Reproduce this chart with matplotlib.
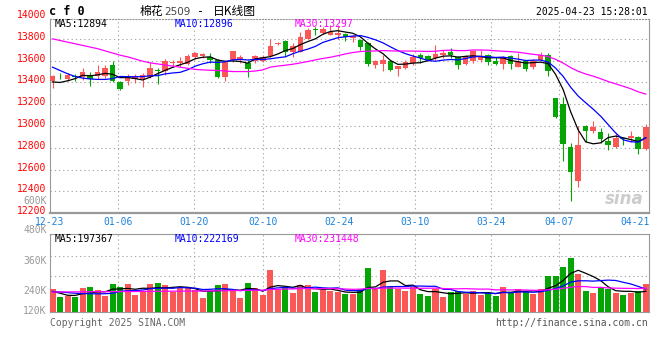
import pandas as pd
import matplotlib
matplotlib.use("Agg")
import matplotlib.pyplot as plt
from matplotlib import transforms

# ---- datos (棉花2509, velas diarias) ----
dates = ['12-23', '12-24', '12-25', '12-26', '12-27', '12-30', '12-31',
         '01-02', '01-03', '01-06', '01-07', '01-08', '01-09', '01-10',
         '01-13', '01-14', '01-15', '01-16', '01-17', '01-20', '01-21',
         '01-22', '01-23', '01-24', '01-27',
         '02-05', '02-06', '02-07', '02-10', '02-11', '02-12', '02-13',
         '02-14', '02-17', '02-18', '02-19', '02-20', '02-21', '02-24',
         '02-25', '02-26', '02-27', '02-28',
         '03-03', '03-04', '03-05', '03-06', '03-07', '03-10', '03-11',
         '03-12', '03-13', '03-14', '03-17', '03-18', '03-19', '03-20',
         '03-21', '03-24', '03-25', '03-26', '03-27', '03-28', '03-31',
         '04-01', '04-02', '04-03', '04-07', '04-08', '04-09', '04-10',
         '04-11', '04-14', '04-15', '04-16', '04-17', '04-18', '04-21',
         '04-22', '04-23']

opens = [13409, 13460, 13429, 13460, 13452, 13472, 13458, 13458, 13559, 13400,
         13414, 13429, 13429, 13452, 13515, 13501, 13578, 13580, 13565, 13638,
         13646, 13638, 13609, 13449, 13603, 13603, 13580, 13593, 13599, 13644,
         13755, 13782, 13683, 13683, 13803, 13890, 13854, 13839, 13833, 13848,
         13812, 13788, 13764, 13557, 13572, 13599, 13527, 13533, 13578, 13653,
         13647, 13623, 13653, 13683, 13633, 13570, 13594, 13609, 13655, 13600,
         13573, 13645, 13539, 13594, 13539, 13609, 13655, 13255, 13200, 12807,
         12496, 13000, 12958, 12943, 12867, 12807, 12894, 12888, 12903, 12789]
closes = [13458, 13455, 13467, 13450, 13498, 13435, 13498, 13536, 13409, 13342,
          13443, 13449, 13472, 13536, 13505, 13594, 13585, 13594, 13646, 13670,
          13661, 13603, 13449, 13588, 13684, 13638, 13527, 13644, 13638, 13737,
          13760, 13683, 13737, 13818, 13878, 13884, 13893, 13863, 13854, 13818,
          13827, 13728, 13572, 13593, 13602, 13515, 13548, 13584, 13638, 13623,
          13608, 13662, 13674, 13653, 13564, 13645, 13685, 13645, 13588, 13573,
          13633, 13570, 13585, 13527, 13594, 13655, 13503, 13085, 12834, 12578,
          12822, 12958, 12994, 12879, 12822, 12888, 12879, 12912, 12789, 12994]
highs = [13472, 13487, 13487, 13478, 13536, 13496, 13559, 13559, 13594, 13414,
         13478, 13478, 13487, 13588, 13536, 13617, 13603, 13632, 13661, 13681,
         13670, 13670, 13617, 13594, 13690, 13652, 13603, 13653, 13653, 13803,
         13773, 13788, 13758, 13863, 13899, 13908, 13908, 13923, 13923, 13854,
         13833, 13803, 13773, 13608, 13653, 13608, 13548, 13608, 13659, 13668,
         13653, 13743, 13698, 13713, 13645, 13655, 13694, 13700, 13661, 13630,
         13639, 13655, 13670, 13609, 13615, 13679, 13670, 13261, 13267, 12849,
         13003, 13009, 13045, 12985, 12934, 12934, 12894, 12955, 12909, 13018]
lows = [13350, 13429, 13414, 13414, 13420, 13365, 13429, 13443, 13400, 13327,
        13380, 13391, 13356, 13443, 13385, 13472, 13545, 13545, 13559, 13617,
        13626, 13574, 13443, 13414, 13588, 13574, 13449, 13578, 13587, 13638,
        13743, 13644, 13638, 13677, 13794, 13833, 13848, 13833, 13803, 13782,
        13773, 13698, 13548, 13533, 13503, 13503, 13458, 13524, 13563, 13578,
        13599, 13608, 13623, 13623, 13527, 13564, 13579, 13588, 13558, 13564,
        13524, 13524, 13539, 13503, 13524, 13603, 13458, 13073, 12677, 12315,
        12442, 12858, 12934, 12849, 12777, 12798, 12828, 12858, 12747, 12783]
volumes = [217000, 141000, 151000, 141000, 230000, 240000, 207000, 151000, 272000, 240000,
           266000, 167000, 200000, 266000, 276000, 256000, 190000, 230000, 240000, 207000,
           131000, 190000, 256000, 266000, 207000, 131000, 276000, 230000, 158000, 404000,
           207000, 240000, 181000, 256000, 256000, 190000, 207000, 197000, 190000, 174000,
           174000, 217000, 427000, 217000, 404000, 240000, 217000, 197000, 240000, 174000,
           151000, 217000, 141000, 190000, 197000, 174000, 197000, 167000, 190000, 151000,
           246000, 190000, 217000, 190000, 174000, 217000, 345000, 345000, 443000, 525000,
           371000, 197000, 184000, 240000, 223000, 181000, 167000, 181000, 197000, 266000]

# medias moviles al principio (dependen de dias anteriores)
ma5_head = [13405, 13400, 13415, 13435]
ma10_head = [13540, 13510, 13480, 13455, 13440, 13432, 13428, 13428, 13435]
ma30_head = [13800, 13785, 13770, 13755, 13740, 13725, 13710, 13690, 13670, 13650,
             13635, 13615, 13595, 13580, 13570, 13560, 13550, 13540, 13530, 13520,
             13515, 13512, 13510, 13505, 13500, 13500, 13500, 13505, 13515]
vma5_head = [197000, 180000, 160000, 158000]
vma10_head = [197000, 192000, 186000, 180000, 176000, 175000, 174000, 175000, 180000]
vma30_head = [192000, 192000, 193000, 193000, 194000, 194000, 195000, 195000, 196000, 196000,
              197000, 197000, 198000, 198000, 199000, 199000, 200000, 200000, 201000, 201000,
              202000, 203000, 204000, 205000, 206000, 207000, 208000, 209000, 210000]

ma_price_text = [12894, 12896, 13297]
ma_vol_text = [197367, 222169, 231448]

tick_dates = ['12-23', '01-06', '01-20', '02-10', '02-24', '03-10', '03-24', '04-07', '04-21']
price_ticks = [14000, 13800, 13600, 13400, 13200, 13000, 12800, 12600, 12400, 12200]
vol_tick_text = ['600K', '480K', '360K', '240K', '120K']

RED = '#fa5757'
GREEN = '#05a505'
GRID = '#aaaaaa'
DOT = (0, (1.2, 2.6))


def with_head(serie, n, head):
    m = pd.Series(serie, dtype=float).rolling(n).mean()
    m.iloc[:len(head)] = head
    return m


plt.rcParams['font.family'] = ['DejaVu Sans Mono']

W, H = 660, 360
fig = plt.figure(figsize=(6.6, 3.6), dpi=100)
fig.patch.set_facecolor('white')


def caja(l, t, r, b):
    return [l / W, 1 - b / H, (r - l) / W, (b - t) / H]


def fx(x, y):
    return x / W, 1 - y / H


ax = fig.add_axes(caja(50, 19, 649, 213.3))
axv = fig.add_axes(caja(50, 234.3, 649, 311.5))

n = len(dates)
xs = list(range(n))
up = [c >= o for o, c in zip(opens, closes)]
colores = [RED if u else GREEN for u in up]

# velas
ax.vlines(xs, lows, highs, colors=colores, lw=0.8, zorder=3)
cuerpo = [max(abs(c - o), 8) for o, c in zip(opens, closes)]
base = [min(o, c) for o, c in zip(opens, closes)]
ax.bar(xs, cuerpo, bottom=base, width=0.74, color=colores, lw=0, zorder=4)

ax.plot(xs, with_head(closes, 5, ma5_head), color='black', lw=0.9, zorder=5)
ax.plot(xs, with_head(closes, 10, ma10_head), color='#0000ff', lw=0.9, zorder=5)
ax.plot(xs, with_head(closes, 30, ma30_head), color='#ff00ff', lw=0.9, zorder=5)

# volumen
axv.bar(xs, volumes, width=0.8, color=colores, lw=0, zorder=3)
axv.plot(xs, with_head(volumes, 5, vma5_head), color='black', lw=0.9, zorder=5)
axv.plot(xs, with_head(volumes, 10, vma10_head), color='#0000ff', lw=0.9, zorder=5)
axv.plot(xs, with_head(volumes, 30, vma30_head), color='#ff00ff', lw=0.9, zorder=5)

# las fechas de la rejilla van con un paso un poco mayor que el de las velas
grid_pos = [dates.index(d) * 1.012 - 0.333 for d in tick_dates]

for a in (ax, axv):
    a.set_xlim(-0.333, 79.43)
    for p in grid_pos[1:-1]:
        a.axvline(p, color=GRID, lw=0.8, ls=DOT, zorder=0)
    for s in a.spines.values():
        s.set_color('#999999')
        s.set_linewidth(0.8)
    a.set_yticks([])

ax.set_ylim(12200, 13982)
axv.set_ylim(0, 760000)

for p in price_ticks[1:-1]:
    ax.axhline(p, color=GRID, lw=0.8, ls=DOT, zorder=0)
for v in [350000, 550000]:
    axv.axhline(v, color=GRID, lw=0.8, ls=DOT, zorder=0)

ax.spines['top'].set_linestyle(':')
ax.spines['bottom'].set_linewidth(1.6)

ax.set_xticks(grid_pos)
ax.set_xticklabels(tick_dates)
ax.tick_params(axis='x', length=0, pad=2.5, labelsize=7, labelcolor='#1c82dc')
axv.set_xticks([])

# etiquetas de precio (rojo) algo por encima de su linea
tr = transforms.offset_copy(transforms.blended_transform_factory(ax.transAxes, ax.transData),
                            fig=fig, x=-3.3, y=2, units='dots')
for p in price_ticks:
    ax.text(0, p, str(p), transform=tr, ha='right', va='center', fontsize=7,
            color='#ff0000', clip_on=False)

vol_label_y = [201, 230.5, 260.5, 290.7, 311]
for t, y in zip(vol_tick_text, vol_label_y):
    fig.text(*fx(46.7, y), t, ha='right', va='center', fontsize=7, color='#999999')

# textos de cabecera
fig.text(*fx(49, 11.5), 'c f 0', ha='left', va='center', fontsize=8.5, weight='bold')
fig.text(*fx(140, 11.5), '棉花', ha='left', va='center', fontsize=8.5,
         family=['Noto Sans CJK SC', 'DejaVu Sans'])
fig.text(*fx(164, 12), '2509', ha='left', va='center', fontsize=7.5, color='#444444',
         family='DejaVu Sans')
fig.text(*fx(197, 11.5), '-', ha='left', va='center', fontsize=8.5, color='black')
fig.text(*fx(213, 11.5), '日K线图', ha='left', va='center', fontsize=8.5,
         family=['Noto Sans CJK SC', 'DejaVu Sans'])
fig.text(*fx(648, 11.7), '2025-04-23 15:28:01', ha='right', va='center', fontsize=7)

ma_col = ['black', '#0000ff', '#ff00ff']
ma_nom = ['MA5', 'MA10', 'MA30']
for x0, nom, c, v1, v2 in zip([55, 175, 295], ma_nom, ma_col, ma_price_text, ma_vol_text):
    fig.text(*fx(x0, 23.7), f'{nom}:{v1}', ha='left', va='center', fontsize=7, color=c)
    fig.text(*fx(x0 - 0.7, 239), f'{nom}:{v2}', ha='left', va='center', fontsize=7, color=c)

# marca de agua
fig.text(*fx(624, 199), 'sina', ha='center', va='center', fontsize=12, style='italic',
         weight='bold', color='#cccccc', family='DejaVu Sans')

fig.text(*fx(50, 323), 'Copyright 2025 SINA.COM', ha='left', va='center', fontsize=7,
         color='#666666')
fig.text(*fx(648, 323), 'http://finance.sina.com.cn', ha='right', va='center', fontsize=7,
         color='#555555')

fig.savefig('out.png', dpi=100)
